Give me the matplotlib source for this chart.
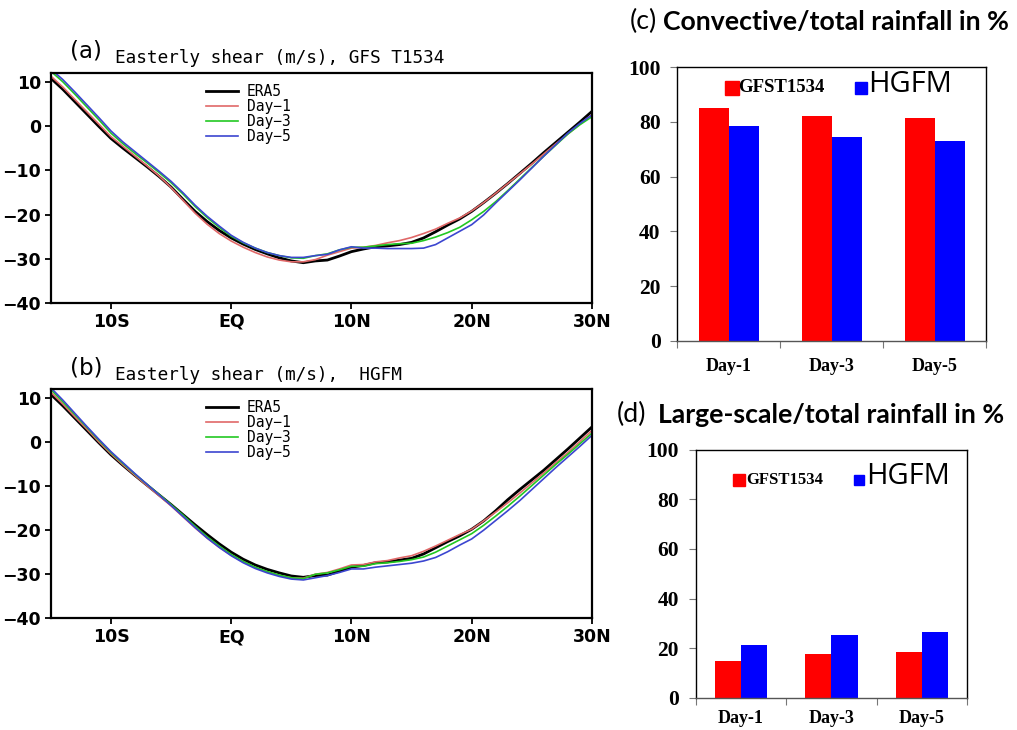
import matplotlib
matplotlib.use("Agg")
import matplotlib.pyplot as plt
from matplotlib.lines import Line2D

# latitude axis (negative = south)
lat = [-15, -14, -13, -12, -11, -10, -9, -8, -7, -6, -5, -4, -3, -2, -1, 0,
       1, 2, 3, 4, 5, 6, 7, 8, 9, 10, 11, 12, 13, 14, 15, 16, 17, 18, 19, 20,
       21, 22, 23, 24, 25, 26, 27, 28, 29, 30]

# (a) GFS T1534 easterly shear (m/s)
era5_a = [10.8, 8.3, 5.5, 2.7, -0.1, -2.8, -5.0, -7.1, -9.2, -11.4, -13.8, -16.6, -19.3, -21.6, -23.6, -25.3,
          -26.7, -27.9, -28.9, -29.8, -30.5, -30.9, -30.5, -30.3, -29.4, -28.4, -27.8, -27.3, -27.1, -26.8, -26.3,
          -25.3, -23.9, -22.4, -21.0, -19.3, -17.3, -15.2, -13.0, -10.7, -8.4, -6.0, -3.7, -1.4, 0.9, 3.3]
day1_a = [11.3, 8.8, 6.0, 3.2, 0.4, -2.4, -4.6, -6.8, -9.0, -11.3, -13.9, -16.8, -19.7, -22.2, -24.3, -26.0,
          -27.4, -28.6, -29.6, -30.3, -30.7, -30.7, -30.2, -29.2, -28.4, -27.6, -27.4, -27.0, -26.4, -25.9, -25.2,
          -24.3, -23.3, -22.0, -20.8, -19.2, -17.3, -15.2, -13.0, -10.8, -8.6, -6.3, -4.0, -1.8, 0.4, 2.6]
day3_a = [12.4, 10.0, 7.2, 4.3, 1.4, -1.6, -4.0, -6.2, -8.3, -10.5, -12.8, -15.4, -18.2, -20.7, -22.9, -24.9,
          -26.4, -27.6, -28.6, -29.3, -29.8, -29.9, -29.3, -28.9, -28.0, -27.4, -27.4, -27.1, -26.8, -26.6, -26.5,
          -25.9, -25.1, -24.1, -22.9, -21.2, -19.3, -17.1, -14.6, -12.0, -9.4, -6.8, -4.3, -1.8, 0.3, 2.1]
day5_a = [12.9, 10.5, 7.7, 4.8, 1.9, -1.1, -3.6, -5.8, -8.0, -10.2, -12.5, -15.1, -17.9, -20.4, -22.6, -24.7,
          -26.3, -27.6, -28.6, -29.3, -29.7, -29.7, -29.3, -29.0, -28.0, -27.3, -27.6, -27.6, -27.7, -27.7, -27.7,
          -27.6, -26.8, -25.3, -23.8, -22.3, -20.1, -17.4, -14.8, -12.2, -9.5, -6.8, -4.2, -1.6, 0.6, 2.5]

# (b) HGFM easterly shear (m/s)
era5_b = [10.8, 8.2, 5.4, 2.6, -0.2, -2.9, -5.3, -7.6, -9.8, -12.0, -14.2, -16.5, -18.8, -21.0, -23.1, -25.0,
          -26.6, -27.9, -28.9, -29.7, -30.4, -30.7, -30.3, -30.2, -29.3, -28.4, -28.0, -27.4, -27.2, -26.8, -26.4,
          -25.4, -24.0, -22.6, -21.3, -19.8, -17.9, -15.6, -13.1, -10.8, -8.6, -6.4, -4.0, -1.6, 0.9, 3.4]
day1_b = [11.3, 8.6, 5.7, 2.9, 0.0, -2.7, -5.2, -7.6, -9.9, -12.2, -14.5, -17.0, -19.5, -21.8, -23.9, -25.7,
          -27.2, -28.5, -29.5, -30.3, -30.8, -30.9, -30.0, -29.6, -28.8, -27.9, -27.8, -27.2, -26.9, -26.3, -25.8,
          -24.8, -23.6, -22.3, -21.0, -19.8, -17.9, -15.9, -13.8, -11.6, -9.3, -7.0, -4.7, -2.4, 0.1, 2.6]
day3_b = [11.9, 9.1, 6.2, 3.3, 0.4, -2.4, -4.9, -7.3, -9.6, -11.9, -14.2, -16.6, -19.1, -21.5, -23.6, -25.5,
          -27.1, -28.4, -29.4, -30.2, -30.8, -31.0, -30.0, -29.7, -29.0, -28.2, -28.2, -27.6, -27.4, -27.1, -26.7,
          -26.1, -25.0, -23.6, -22.2, -20.8, -18.9, -16.8, -14.6, -12.3, -9.9, -7.5, -5.1, -2.8, -0.4, 2.0]
day5_b = [12.3, 9.5, 6.5, 3.5, 0.6, -2.2, -4.7, -7.2, -9.6, -12.0, -14.4, -16.9, -19.4, -21.8, -23.9, -25.8,
          -27.4, -28.7, -29.7, -30.5, -31.1, -31.3, -30.8, -30.3, -29.6, -28.8, -28.8, -28.4, -28.1, -27.8, -27.5,
          -27.0, -26.2, -24.9, -23.4, -22.0, -20.0, -17.8, -15.6, -13.3, -10.8, -8.3, -5.8, -3.4, -1.0, 1.5]

lat_ticks = [-10, 0, 10, 20, 30]
lat_labels = ["10S", "EQ", "10N", "20N", "30N"]

# (c), (d) rainfall fractions in %
days = ["Day-1", "Day-3", "Day-5"]
conv_gfs = [84.9, 82.3, 81.3]
conv_hgfm = [78.5, 74.5, 73.1]
ls_gfs = [14.7, 17.5, 18.5]
ls_hgfm = [21.3, 25.2, 26.5]

series_names = ["ERA5", "Day\u22121", "Day\u22123", "Day\u22125"]
series_colors = ["black", "#e06868", "#22c822", "#3c46d0"]
series_widths = [2.0, 1.2, 1.2, 1.2]

narrow = ["Liberation Sans Narrow", "DejaVu Sans"]


def shear_panel(ax, data, letter, title, ty, tty):
    for vals, name, col, lw in zip(data, series_names, series_colors, series_widths):
        ax.plot(lat, vals, color=col, lw=lw, label=name)
    ax.set_xlim(-15, 30)
    ax.set_ylim(-40, 12)
    ax.set_xticks(lat_ticks)
    ax.set_xticklabels(lat_labels, family=narrow, fontweight="bold", fontsize=12.5)
    ax.set_yticks([-40, -30, -20, -10, 0, 10])
    ax.set_yticklabels(["\u221240", "\u221230", "\u221220", "\u221210", "0", "10"],
                       family=narrow, fontweight="bold", fontsize=12.5)
    ax.tick_params(direction="out", length=4, width=1.3, pad=3)
    for s in ax.spines.values():
        s.set_linewidth(1.6)
    ax.legend(loc="upper left", bbox_to_anchor=(0.267, 1.0), frameon=False,
              handlelength=2.2, handletextpad=0.6, labelspacing=0.0, borderaxespad=0.35,
              prop={"family": "DejaVu Sans Mono", "size": 10.5})
    fig.text(0.069, ty, letter, fontsize=16.5, family="DejaVu Sans", va="center")
    fig.text(0.113, tty, title, fontsize=12.8, family="DejaVu Sans Mono", va="center")


def rain_panel(ax, gfs, hgfm, leg_anchor, gfs_size, sq_sizes, colsp, xpad):
    x = list(range(len(days)))
    w = 0.29
    ax.bar([i - w / 2 for i in x], gfs, width=w, color="#ff0000", label="GFST1534")
    ax.bar([i + w / 2 for i in x], hgfm, width=w, color="#0000ff", label="HGFM")
    ax.set_xlim(-0.5, 2.5)
    ax.set_xticks([-0.5, 0.5, 1.5, 2.5])
    ax.set_xticklabels([])
    ax.set_xticks(x, minor=True)
    ax.set_xticklabels(days, minor=True, family="Liberation Serif", fontweight="bold", fontsize=13)
    ax.tick_params(axis="x", which="minor", length=0, pad=xpad)
    ax.tick_params(axis="x", which="major", direction="out", length=5, color="#777777")
    ax.set_yticks([0, 20, 40, 60, 80, 100])
    ax.set_yticklabels(["0", "20", "40", "60", "80", "100"], family="Liberation Serif",
                       fontweight="bold", fontsize=15.5)
    ax.tick_params(axis="y", direction="out", length=5, color="#777777", pad=7)
    for s in ax.spines.values():
        s.set_linewidth(1.0)
    ax.spines["bottom"].set_color("#555555")
    handles = [Line2D([], [], marker="s", color="#ff0000", linestyle="none", markersize=sq_sizes[0]),
               Line2D([], [], marker="s", color="#0000ff", linestyle="none", markersize=sq_sizes[1])]
    leg = ax.legend(handles, ["GFST1534", "HGFM"], ncol=2, loc="center",
                    bbox_to_anchor=leg_anchor, frameon=False, handletextpad=0.1,
                    columnspacing=colsp, handlelength=0.8)
    t0, t1 = leg.get_texts()
    t0.set_fontfamily("Liberation Serif")
    t0.set_fontweight("bold")
    t0.set_fontsize(gfs_size)
    t1.set_fontfamily("Open Sans")
    t1.set_fontsize(21)


fig = plt.figure(figsize=(10.17, 7.30), dpi=100)

ax_a = fig.add_axes([0.050, 0.585, 0.532, 0.315])
shear_panel(ax_a, [era5_a, day1_a, day3_a, day5_a], "(a)",
            "Easterly shear (m/s), GFS T1534", 0.930, 0.921)

ax_b = fig.add_axes([0.050, 0.153, 0.532, 0.314])
shear_panel(ax_b, [era5_b, day1_b, day3_b, day5_b], "(b)",
            "Easterly shear (m/s),  HGFM", 0.496, 0.486)

ax_c = fig.add_axes([0.666, 0.533, 0.304, 0.375])
ax_c.set_ylim(0, 96.5)
rain_panel(ax_c, conv_gfs, conv_hgfm, (0.523, 0.935), 13.5, (9.5, 8.5), 2.2, 12)

ax_d = fig.add_axes([0.684, 0.044, 0.267, 0.340])
ax_d.set_ylim(0, 99.5)
rain_panel(ax_d, ls_gfs, ls_hgfm, (0.537, 0.89), 12, (8, 6.5), 2.2, 9)

fig.text(0.619, 0.970, "(c)", fontsize=19.2, family="Lato", va="center")
fig.text(0.652, 0.970, "Convective/total rainfall in %", fontsize=19.2, family="Lato",
         fontweight="bold", va="center")
fig.text(0.606, 0.432, "(d)", fontsize=19.2, family="Lato", va="center")
fig.text(0.647, 0.432, "Large-scale/total rainfall in %", fontsize=19.2, family="Lato",
         fontweight="bold", va="center")

fig.savefig("out.png", dpi=100)
